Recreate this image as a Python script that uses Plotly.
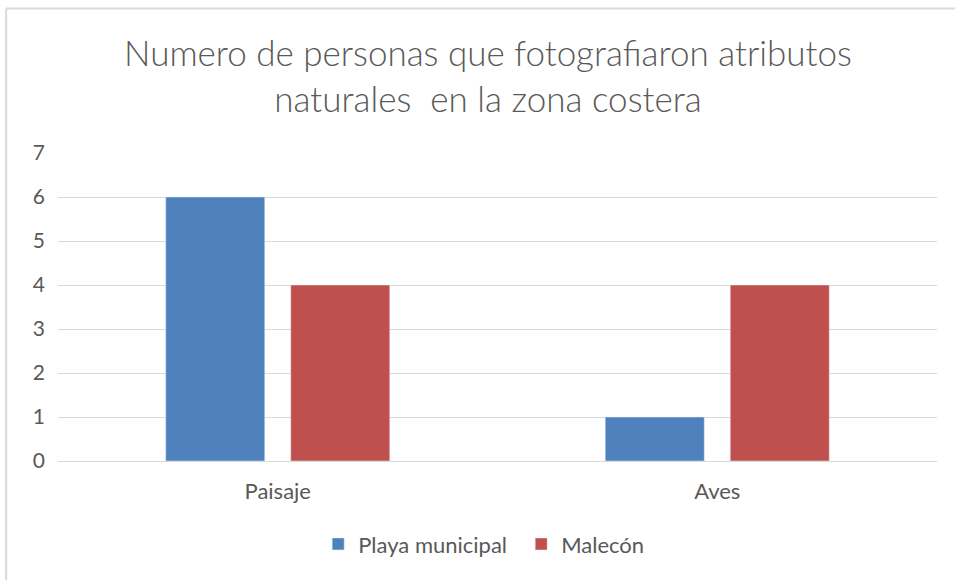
import plotly.graph_objects as go

categories = ["Paisaje", "Aves"]
playa_municipal = [6, 1]
malecon = [4, 4]

font_family = "Lato, Open Sans, sans-serif"
text_color = "#595959"

fig = go.Figure()
fig.add_trace(go.Bar(x=categories, y=playa_municipal, name="Playa municipal",
                     marker_color="#4F81BD"))
fig.add_trace(go.Bar(x=categories, y=malecon, name="Malecón",
                     marker_color="#C0504D"))

fig.update_layout(
    width=955, height=580,
    margin=dict(l=58, r=18, t=153, b=119),
    paper_bgcolor="white", plot_bgcolor="white",
    barmode="group", bargap=0.431, bargroupgap=0.208,
    font=dict(family=font_family, color=text_color, size=22),
    title=dict(text="Numero de personas que fotografiaron atributos<br>naturales  en la zona costera",
               x=0.511, xanchor="center", y=0.886, yanchor="middle", yref="container",
               font=dict(size=35, color=text_color, family=font_family, weight=300)),
    legend=dict(orientation="h", x=0.296, xanchor="left", y=-0.27, yanchor="middle",
                font=dict(size=22), itemwidth=30, entrywidth=158, traceorder="normal"),
    showlegend=True,
)
fig.update_yaxes(range=[0, 7], dtick=1, showgrid=True, gridcolor="#d9d9d9", gridwidth=1,
                 zeroline=False, showline=False, ticks="", ticklabelstandoff=12,
                 tickfont=dict(size=21, color=text_color))
fig.update_xaxes(showline=True, linecolor="#d9d9d9", linewidth=1, ticks="",
                 tickfont=dict(size=22, color=text_color), ticklabelstandoff=11)

# chart border (top and left edges visible)
fig.add_shape(type="line", xref="paper", yref="paper", x0=-0.059, x1=1.03, y0=1.469, y1=1.469,
              line=dict(color="#d9d9d9", width=2))
fig.add_shape(type="line", xref="paper", yref="paper", x0=-0.059, x1=-0.059, y0=1.469, y1=-0.45,
              line=dict(color="#d9d9d9", width=2))

fig.write_html("out.html", config={"displayModeBar": False},
               post_script="document.body.style.margin='0';")
